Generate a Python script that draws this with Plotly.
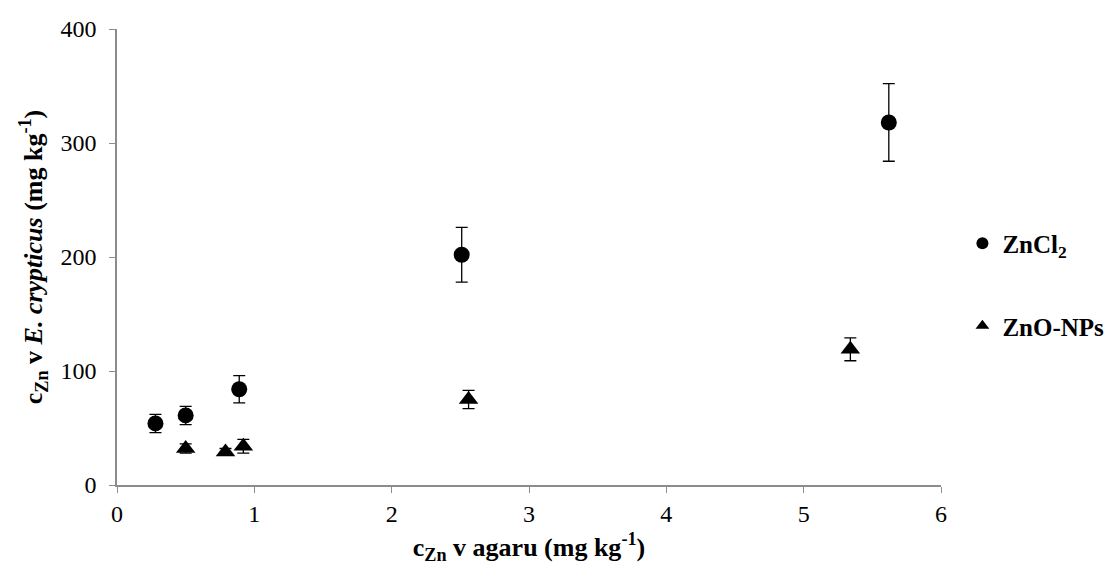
import plotly.graph_objects as go

zncl2_x = [0.28, 0.50, 0.89, 2.51, 5.62]
zncl2_y = [54, 61, 84, 202, 318]
zncl2_err = [8, 8, 12, 24, 34]

zno_x = [0.50, 0.79, 0.92, 2.56, 5.34]
zno_y = [32, 29, 34, 75, 119]
zno_err = [4, 3, 6, 8, 10]

font_family = "Liberation Serif"

fig = go.Figure()
fig.add_trace(go.Scatter(
    x=zncl2_x, y=zncl2_y, mode="markers", name="<b>ZnCl<sub>2</sub></b>",
    legendgroup="a",
    marker=dict(symbol="circle", size=16, color="black"),
    error_y=dict(type="data", array=zncl2_err, color="black", thickness=1.3, width=6),
))
fig.add_trace(go.Scatter(
    x=zno_x, y=zno_y, mode="markers", name="<b>ZnO-NPs</b>",
    legendgroup="b",
    marker=dict(symbol="triangle-up", size=17, color="black"),
    error_y=dict(type="data", array=zno_err, color="black", thickness=1.3, width=6),
))

fig.update_layout(
    width=1120, height=565,
    margin=dict(l=117, r=179, t=29, b=80, autoexpand=False),
    plot_bgcolor="white", paper_bgcolor="white",
    font=dict(family=font_family, color="black", size=24),
    legend=dict(x=1.026, xanchor="left", y=0.58, yanchor="top",
                tracegroupgap=47, font=dict(size=25, family=font_family),
                itemsizing="constant"),
    xaxis=dict(range=[0, 6], dtick=1, showline=True, linecolor="#8c8c8c", linewidth=1.5,
               ticks="outside", tickcolor="#8c8c8c", ticklen=6, showgrid=False, zeroline=False,
               tickfont=dict(size=24),
               title=dict(text="<b>c<sub>Zn</sub> v agaru (mg kg<sup>-1</sup>)</b>", font=dict(size=26), standoff=14)),
    yaxis=dict(range=[0, 400], dtick=100, showline=True, linecolor="#8c8c8c", linewidth=1.5,
               ticks="outside", tickcolor="#8c8c8c", ticklen=6, showgrid=False, zeroline=False,
               tickfont=dict(size=24), ticklabelstandoff=8,
               title=dict(text="<b>c<sub>Zn</sub> v <i>E. crypticus</i> (mg kg<sup>-1</sup>)</b>", font=dict(size=26), standoff=10)),
)

fig.write_html("out.html")
